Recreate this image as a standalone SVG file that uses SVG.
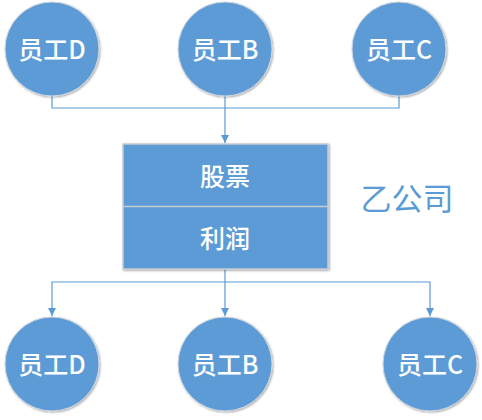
<svg xmlns="http://www.w3.org/2000/svg" width="482" height="420" viewBox="0 0 482 420">
<defs>
<marker id="arr" markerWidth="8" markerHeight="8" refX="8" refY="4" orient="auto" markerUnits="userSpaceOnUse">
<path d="M0,0 L8,4 L0,8 Z" fill="#5b9bd5"/>
</marker>
<filter id="sh" x="-20%" y="-20%" width="140%" height="140%">
<feGaussianBlur in="SourceAlpha" stdDeviation="1.2"/>
<feOffset dx="0.5" dy="1" result="b"/>
<feComponentTransfer><feFuncA type="linear" slope="0.35"/></feComponentTransfer>
<feMerge><feMergeNode/><feMergeNode in="SourceGraphic"/></feMerge>
</filter>
</defs>
<style>
.c{fill:#5b9bd5;stroke:#d0d6de;stroke-width:1;filter:url(#sh)}
.t{fill:#ffffff;font-family:"Noto Sans CJK SC","Liberation Sans",sans-serif;font-size:25px;font-weight:500;text-anchor:middle}
.l{fill:none;stroke:#5b9bd5;stroke-width:1.2}
</style>
<rect width="482" height="420" fill="#ffffff"/>
<g id="connectors">
<path class="l" d="M52,96 V108 H399 V96"/>
<path class="l" d="M225,96 V143" marker-end="url(#arr)"/>
<path class="l" d="M225,269 V282 H52 V316" marker-end="url(#arr)"/>
<path class="l" d="M225,282 V316" marker-end="url(#arr)"/>
<path class="l" d="M225,282 H430 V316" marker-end="url(#arr)"/>
</g>
<g id="top-d"><circle class="c" cx="52" cy="49" r="47"/><text class="t" x="52" y="59">员工D</text></g>
<g id="top-b"><circle class="c" cx="225" cy="49" r="47"/><text class="t" x="225" y="59">员工B</text></g>
<g id="top-c"><circle class="c" cx="399" cy="49" r="47"/><text class="t" x="399" y="59">员工C</text></g>
<g id="company-box">
<rect x="123" y="144" width="205" height="125" fill="#5b9bd5" stroke="#c8ccd2" stroke-width="1.5" filter="url(#sh)"/>
<line x1="123" y1="206.5" x2="328" y2="206.5" stroke="#c8ccd2" stroke-width="1.5"/>
<text class="t" x="225" y="186">股票</text>
<text class="t" x="225" y="248">利润</text>
</g>
<g id="company-label"><text x="407" y="210" font-family="Noto Sans CJK SC, Liberation Sans, sans-serif" font-size="31" fill="#5b9bd5" text-anchor="middle">乙公司</text></g>
<g id="bot-d"><circle class="c" cx="52" cy="364" r="47"/><text class="t" x="52" y="374">员工D</text></g>
<g id="bot-b"><circle class="c" cx="225" cy="364" r="47"/><text class="t" x="225" y="374">员工B</text></g>
<g id="bot-c"><circle class="c" cx="430" cy="364" r="47"/><text class="t" x="430" y="374">员工C</text></g>
</svg>
